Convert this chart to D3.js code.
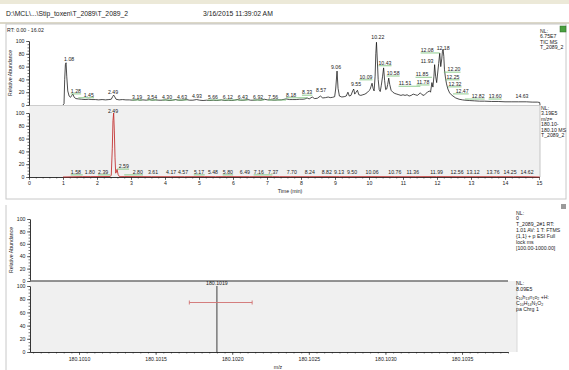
<!DOCTYPE html>
<html><head><meta charset="utf-8">
<script src="https://cdn.jsdelivr.net/npm/d3@7"></script>
<style>body{margin:0;background:#fff;} svg{display:block;font-family:"Liberation Sans",Arial,sans-serif;}</style>
</head><body><svg id="c" width="569" height="370"></svg>
<script>
// ---------------- DATA ----------------
const ticTimes = [1.00,1.03,1.05,1.07,1.09,1.11,1.14,1.18,1.22,1.26,1.29,1.33,1.38,1.45,1.55,1.65,1.75,1.85,1.95,2.05,2.15,2.25,2.35,2.42,2.46,2.49,2.52,2.56,2.65,2.75,2.85,2.95,3.05,3.15,3.19,3.25,3.35,3.45,3.54,3.62,3.72,3.82,3.92,4.02,4.12,4.22,4.30,4.40,4.50,4.63,4.72,4.82,4.93,5.02,5.12,5.22,5.32,5.42,5.52,5.66,5.76,5.86,5.96,6.04,6.12,6.22,6.32,6.43,6.52,6.62,6.72,6.82,6.92,7.02,7.12,7.22,7.32,7.42,7.56,7.66,7.76,7.86,7.96,8.06,8.12,8.18,8.24,8.33,8.40,8.48,8.57,8.64,8.72,8.80,8.86,8.93,8.99,9.02,9.06,9.09,9.13,9.20,9.27,9.33,9.38,9.42,9.47,9.52,9.55,9.58,9.62,9.66,9.70,9.76,9.82,9.88,9.94,9.99,10.03,10.06,10.09,10.12,10.15,10.18,10.20,10.22,10.24,10.27,10.30,10.33,10.36,10.40,10.43,10.46,10.49,10.52,10.55,10.58,10.61,10.65,10.70,10.76,10.82,10.88,10.94,11.00,11.06,11.12,11.18,11.24,11.30,11.36,11.42,11.47,11.51,11.56,11.62,11.67,11.72,11.78,11.81,11.85,11.88,11.91,11.93,11.96,11.99,12.02,12.05,12.08,12.11,12.14,12.16,12.18,12.20,12.22,12.25,12.28,12.32,12.37,12.42,12.47,12.55,12.65,12.75,12.82,12.95,13.10,13.25,13.40,13.60,13.80,14.00,14.20,14.40,14.63,14.80,14.95,15.02,15.03];
const ticValues = [0,2,40,63,66,45,22,14,12,15,17,12,10,9.5,9,8.5,9,8.5,8.5,8,8.5,8,8.5,9,13,15.5,13,9,8,8.5,8,8,7.5,8,8.5,7.5,8,7.5,8.5,7.5,8,7.5,7.5,8,7,7.5,8.5,7.5,7.5,8.5,7.5,7.5,8.5,7.5,7,7.5,7,7.5,7,8,7,7.5,7,7.5,8.5,7.5,7.5,8.5,7.5,7.5,8,7.5,9,8,8,7.5,8,8,9.5,8.5,8.5,8.5,9,9,9.5,11,9.5,12.5,10,10.5,14,11,11.5,12.5,11.5,12,13,25,53,26,14,12.5,13,14,20,14,15,22,25,17,20,23,16,15,16,17,19,22,24,29,34,26,22,45,80,98,75,40,24,21,30,45,58,38,24,25,32,42,32,23,20,18,17,16,15,16,15,16,14,15,17,16,15,17,19,16,15,18,20,22,20,35,28,45,63,45,35,50,65,81,60,72,84,87,76,55,42,33,25,19,16,14,11,9,8,7.5,7,6.5,6,6,5.5,5.5,5,5,5,5,4.5,4.5,4,0];

const xicTimes = [1.00,1.58,1.80,2.39,2.42,2.45,2.47,2.49,2.51,2.53,2.55,2.57,2.59,2.62,2.66,2.80,3.61,4.17,4.57,5.17,5.48,5.80,6.49,7.16,7.37,7.70,8.24,8.82,9.13,9.50,10.06,10.76,11.36,11.99,12.56,13.12,13.76,14.25,14.62,15.02];
const xicValues = [0,0.6,0.6,0.8,3,45,88,100,72,30,6,8,12,4,0.6,0.7,0.5,0.5,0.5,0.6,0.5,0.6,0.5,0.6,0.5,0.5,0.5,0.6,0.5,0.5,0.6,0.5,0.5,0.6,0.5,0.5,0.5,0.5,0.5,0];

const topLabels = ["1.08","1.28","1.45","2.49","3.19","3.54","4.30","4.63","4.93","5.66","6.12","6.43","6.92","7.56","8.18","8.33","8.57","9.06","9.55","10.09","10.22","10.43","10.58","11.51","11.85","11.78","11.93","12.08","12.18","12.20","12.25","12.32","12.47","12.82","13.60","14.63"];
const topLabelRT = [1.18,1.38,1.76,2.47,3.18,3.62,4.06,4.50,4.94,5.41,5.85,6.29,6.74,7.18,7.71,8.18,8.59,9.03,9.62,9.91,10.26,10.47,10.71,11.06,11.56,11.59,11.71,11.71,12.18,12.50,12.47,12.53,12.74,13.21,13.71,14.50];
const topLabelLevel = [72,22,16,20,12.5,12.5,12.5,12.5,14,12.5,12.5,12.5,12.5,12.5,16,20,23,59,33,44,106,66,50,34,48,36,69,86,89,56,44,33,22,14,14,14];
const topLabelGreen = [0,1,1,0,1,1,1,1,0,1,1,1,1,1,1,1,0,0,0,1,0,1,1,1,1,1,0,1,0,1,1,1,1,1,1,0];

const midLabels = ["2.49","1.58","1.80","2.39","2.59","2.80","3.61","4.17","4.57","5.17","5.48","5.80","6.49","7.16","7.37","7.70","8.24","8.82","9.13","9.50","10.06","10.76","11.36","11.99","12.56","13.12","13.76","14.25","14.62"];
const midLabelRT = [2.47,1.38,1.79,2.18,2.79,3.20,3.65,4.18,4.53,5.00,5.41,5.85,6.35,6.76,7.18,7.73,8.26,8.76,9.12,9.50,10.09,10.76,11.29,11.99,12.59,13.06,13.65,14.15,14.65];
const midLabelLevel = [103,8,8,8,17,8,8,8,8,8,8,8,8,8,8,8,8,8,8,8,8,8,8,8,8,8,8,8,8];
const midLabelGreen = [0,1,0,1,1,1,0,0,0,1,0,1,0,1,0,0,0,0,0,0,0,0,0,0,0,0,0,0,0];

const rtTicks = [0,1,2,3,4,5,6,7,8,9,10,11,12,13,14,15];
const pctTicks = [0,20,40,60,80,100];
const mzTicks = [180.1010,180.1015,180.1020,180.1025,180.1030,180.1035];
const mzDomain = [180.10068,180.10380];
const stickMz = [180.1019];
const stickValues = [100];
const theoMzRange = [180.10172,180.10213];
const theoLevel = 75;

// ---------------- DRAW ----------------
const svg = d3.select("#c");
const FS = 5.2;

// header
svg.append("rect").attr("x",0).attr("y",0).attr("width",569).attr("height",4).attr("fill","#ece9d8");
svg.append("text").attr("x",6).attr("y",15.5).attr("font-size",6.8).attr("fill","#222").text("D:\\MCL\\...\\Stip_toxen\\T_2089\\T_2089_2");
svg.append("text").attr("x",203).attr("y",15.5).attr("font-size",6.8).attr("fill","#222").text("3/16/2015 11:39:02 AM");
svg.append("rect").attr("x",0).attr("y",22).attr("width",569).attr("height",2).attr("fill","#dcd8c8");

// frames
svg.append("rect").attr("x",6).attr("y",24).attr("width",560).attr("height",175).attr("fill","none").attr("stroke","#c8c8c8").attr("stroke-width",1);
svg.append("line").attr("x1",6).attr("x2",6).attr("y1",205).attr("y2",370).attr("stroke","#c8c8c8");
svg.append("rect").attr("x",560).attr("y",26).attr("width",6).attr("height",6).attr("fill","#4aa040").attr("stroke","#2a6a20").attr("stroke-width",0.5);
svg.append("rect").attr("x",561).attr("y",204).attr("width",5).attr("height",5).attr("fill","#9a9a9a");

svg.append("text").attr("x",7).attr("y",32).attr("font-size",5.2).attr("fill","#222").text("RT: 0.00 - 16.02");

// scales
const xRT = d3.scaleLinear().domain([0,15]).range([29,539]);
const yTop = d3.scaleLinear().domain([0,100]).range([105,41]);
const yMid = d3.scaleLinear().domain([0,100]).range([177,113]);
const xMZ = d3.scaleLinear().domain(mzDomain).range([30,508]);
const yMS1 = d3.scaleLinear().domain([0,100]).range([281,219]);
const yMS2 = d3.scaleLinear().domain([0,100]).range([352,286]);

// panel backgrounds
svg.append("rect").attr("x",xRT(0)).attr("y",106).attr("width",xRT(15)-xRT(0)+1).attr("height",71).attr("fill","#f0f0f0");
svg.append("line").attr("x1",xRT(15)+1).attr("x2",xRT(15)+1).attr("y1",105).attr("y2",177).attr("stroke","#b8b8b8").attr("stroke-width",0.8);
svg.append("line").attr("x1",xRT(0)).attr("x2",xRT(15)+1).attr("y1",105.5).attr("y2",105.5).attr("stroke","#c0c0c0").attr("stroke-width",0.8);
svg.append("rect").attr("x",30).attr("y",281).attr("width",487).attr("height",71).attr("fill","#f0f0f0");
svg.append("line").attr("x1",517).attr("x2",517).attr("y1",281).attr("y2",352).attr("stroke","#d0d0d0").attr("stroke-width",0.8);

function styleAxis(g){
  g.selectAll("text").attr("font-size",FS).attr("fill","#222").attr("font-family","Liberation Sans, Arial, sans-serif");
  g.selectAll("line").attr("stroke","#222").attr("stroke-width",0.6);
  g.selectAll("path").attr("stroke","#222").attr("stroke-width",0.7);
}
function yAxis(scale,x){
  const g = svg.append("g").attr("transform",`translate(${x},0)`)
    .call(d3.axisLeft(scale).tickValues(pctTicks).tickSize(3).tickPadding(1.5).tickSizeOuter(0));
  styleAxis(g);
  const m = svg.append("g").attr("transform",`translate(${x},0)`)
    .call(d3.axisLeft(scale).tickValues(d3.range(0,101,5)).tickSize(1.5).tickFormat("").tickSizeOuter(0));
  styleAxis(m);
}
yAxis(yTop,29);
yAxis(yMid,29);
yAxis(yMS1,30);
yAxis(yMS2,30);

// RT axis
const gx = svg.append("g").attr("transform","translate(0,177)")
  .call(d3.axisBottom(xRT).tickValues(rtTicks).tickSize(3).tickPadding(1.5).tickSizeOuter(0).tickFormat(d3.format("d")));
styleAxis(gx);
const gxm = svg.append("g").attr("transform","translate(0,177)")
  .call(d3.axisBottom(xRT).tickValues(d3.range(0,75).map(i=>i*0.2)).tickSize(1.5).tickFormat("").tickSizeOuter(0));
styleAxis(gxm);
svg.append("text").attr("x",290).attr("y",193).attr("text-anchor","middle").attr("font-size",FS).attr("fill","#222").text("Time (min)");

// m/z axis
const gm = svg.append("g").attr("transform","translate(0,352)")
  .call(d3.axisBottom(xMZ).tickValues(mzTicks).tickSize(3).tickPadding(2).tickSizeOuter(0).tickFormat(d3.format(".4f")));
styleAxis(gm);
const minorMz = d3.range(0,63).map(i=>180.10070+i*0.00005).filter(v=>v<=mzDomain[1]);
const gmm = svg.append("g").attr("transform","translate(0,352)")
  .call(d3.axisBottom(xMZ).tickValues(minorMz).tickSize(1.5).tickFormat("").tickSizeOuter(0));
styleAxis(gmm);
svg.append("text").attr("x",278).attr("y",369).attr("text-anchor","middle").attr("font-size",FS).attr("fill","#222").text("m/z");
// upper MS baseline (thick)
svg.append("line").attr("x1",xMZ(mzDomain[0])).attr("x2",xMZ(mzDomain[1])).attr("y1",yMS1(0)).attr("y2",yMS1(0)).attr("stroke","#707070").attr("stroke-width",1.6);

// Relative Abundance labels
svg.append("text").attr("transform","translate(11.5,73) rotate(-90)").attr("text-anchor","middle").attr("font-size",FS).attr("fill","#222").text("Relative Abundance");
svg.append("text").attr("transform","translate(13,250) rotate(-90)").attr("text-anchor","middle").attr("font-size",FS).attr("fill","#222").text("Relative Abundance");

// traces
const tic = ticTimes.map((t,i)=>[t,ticValues[i]]);
svg.append("path").datum(tic).attr("fill","none").attr("stroke","#111").attr("stroke-width",0.75)
  .attr("d", d3.line().x(d=>xRT(d[0])).y(d=>yTop(d[1])));
const xic = xicTimes.map((t,i)=>[t,xicValues[i]]);
svg.append("path").datum(xic).attr("fill","none").attr("stroke","#c02828").attr("stroke-width",0.85)
  .attr("d", d3.line().x(d=>xRT(d[0])).y(d=>yMid(d[1])));

// labels
function drawLabels(texts, rts, levels, greens, yScale){
  texts.forEach((t,i)=>{
    const cx = xRT(rts[i]), cy = yScale(levels[i]);
    const w = t.length*2.6;
    if(greens[i]){
      const peakX = xRT(+t);
      const x1 = Math.min(cx-w/2, peakX), x2 = Math.max(cx+w/2, peakX);
      svg.append("line").attr("x1",x1).attr("x2",x2).attr("y1",cy+3).attr("y2",cy+3)
        .attr("stroke","#72c072").attr("stroke-width",0.8);
    }
    svg.append("text").attr("x",cx).attr("y",cy+1.8).attr("text-anchor","middle")
      .attr("font-size",FS).attr("fill","#222").text(t);
  });
}
drawLabels(topLabels, topLabelRT, topLabelLevel, topLabelGreen, yTop);
drawLabels(midLabels, midLabelRT, midLabelLevel, midLabelGreen, yMid);

// MS stick + theoretical range
stickMz.forEach((m,i)=>{
  svg.append("line").attr("x1",xMZ(m)).attr("x2",xMZ(m)).attr("y1",yMS2(0)).attr("y2",yMS2(stickValues[i])).attr("stroke","#111").attr("stroke-width",0.8);
  svg.append("text").attr("x",xMZ(m)).attr("y",yMS2(stickValues[i])-1.5).attr("text-anchor","middle").attr("font-size",FS).attr("fill","#222").text(m.toFixed(4));
});
const ty = yMS2(theoLevel);
svg.append("line").attr("x1",xMZ(theoMzRange[0])).attr("x2",xMZ(theoMzRange[1])).attr("y1",ty).attr("y2",ty).attr("stroke","#d07070").attr("stroke-width",0.9);
theoMzRange.forEach(m=>{
  svg.append("line").attr("x1",xMZ(m)).attr("x2",xMZ(m)).attr("y1",ty-2).attr("y2",ty+2).attr("stroke","#d07070").attr("stroke-width",0.9);
});

// right-side annotations
function block(x,y0,dy,lines){
  lines.forEach((l,i)=>{
    const t = svg.append("text").attr("x",x).attr("y",y0+i*dy).attr("font-size",FS).attr("fill","#222");
    if(Array.isArray(l)){
      l.forEach(seg=>{
        const s = t.append("tspan").text(seg[0]);
        if(seg[1]) s.attr("font-size",3.6).attr("dy",1.2); else s.attr("dy",seg[2]||0);
      });
    } else t.text(l);
  });
}
block(540,33,5.4,["NL:","6.75E7","TIC MS","T_2089_2"]);
block(541,110,5.4,["NL:","3.19E5","m/z=","180.10-","180.10 MS","T_2089_2"]);
block(516,214.5,5.9,["NL:","0","T_2089_2#1  RT:","1.01  AV: 1  T: FTMS","{1,1}  + p ESI Full","lock ms","[100.00-1000.00]"]);
block(516,285,5.8,["NL:","8.09E5"]);
block(516,299,5.8,[
  [["c"],["10",1],["h",0,-1.2],["13",1],["n",0,-1.2],["1",1],["o",0,-1.2],["2",1],[" +H:",0,-1.2]],
  [["C"],["10",1],["H",0,-1.2],["14",1],["N",0,-1.2],["1",1],["O",0,-1.2],["2",1]],
  "pa Chrg 1"]);
</script></body></html>
